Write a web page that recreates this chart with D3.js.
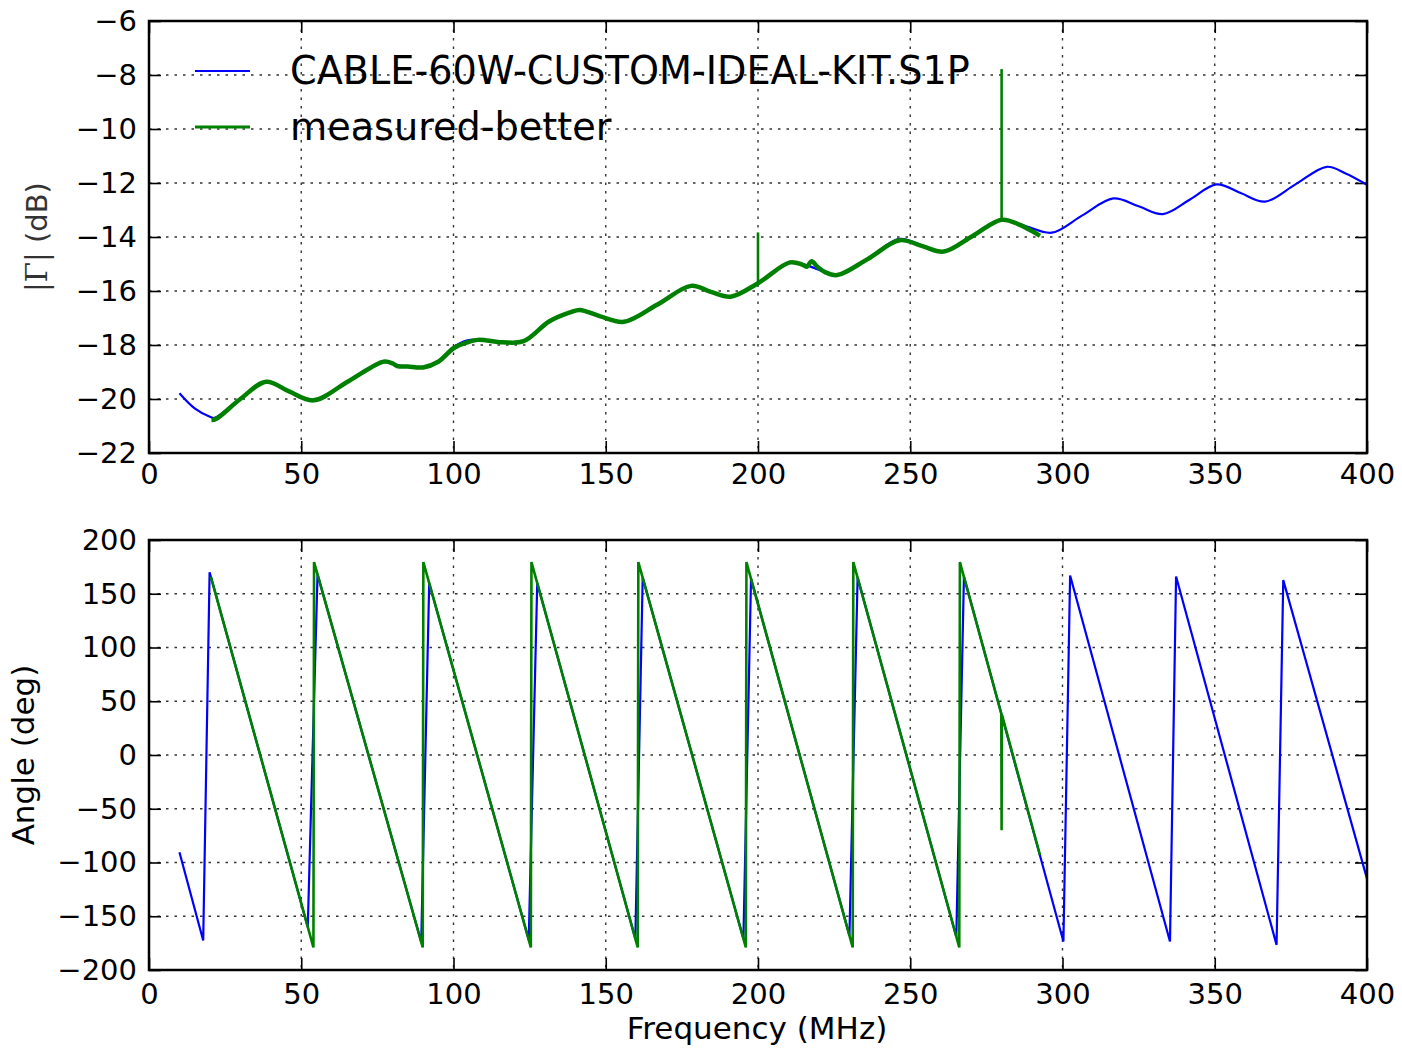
<!DOCTYPE html>
<html>
<head>
<meta charset="utf-8">
<script src="https://cdn.jsdelivr.net/npm/d3@7"></script>
<style>
  body { margin: 0; background: #fff; }
  svg { display: block; }
</style>
</head>
<body>
<svg id="chart" width="1402" height="1049"></svg>
<script>
// ---- Reflection coefficient data: ideal kit model vs. measured ----
const idealMagFreq = [10, 15, 20, 21.5, 30, 38.5, 46, 54, 65.5, 77, 83, 90, 95, 100, 104, 108, 116, 123,
  131.5, 138.5, 141, 148, 156, 167, 178, 184.5, 191, 200, 210.5, 216, 219, 226, 236, 246.5, 254, 261,
  270.5, 280, 288, 296.5, 306.5, 316.7, 325, 333, 342, 350.6, 358.5, 366.5, 376.5, 386.8, 393, 400];
const idealMagDb = [-19.79, -20.35, -20.66, -20.70, -20.0, -19.37, -19.72, -20.04, -19.33, -18.63, -18.78, -18.82, -18.6, -18.08, -17.84, -17.80, -17.89, -17.85,
  -17.1, -16.77, -16.71, -16.93, -17.14, -16.5, -15.81, -16.03, -16.21, -15.72, -14.95, -15.05, -15.17, -15.41, -14.8, -14.07, -14.32, -14.54,
  -13.95, -13.36, -13.6, -13.84, -13.2, -12.57, -12.86, -13.15, -12.6, -12.05, -12.37, -12.69, -12.05, -11.40, -11.65, -12.07];

const measMagFreq = [20.5, 22, 30, 38.5, 46, 54, 65.5, 77, 80, 81.5, 85, 90, 95, 100, 104, 108, 116, 123,
  131.5, 138.5, 141.5, 148, 156, 167, 178, 184.5, 191, 200, 210.5, 214.5, 216, 217.6, 219.5, 222, 226,
  236, 246.5, 254, 261, 270.5, 280, 286, 292.6];
const measMagDb = [-20.78, -20.74, -20.0, -19.36, -19.72, -20.05, -19.34, -18.62, -18.68, -18.78, -18.8, -18.83, -18.62, -18.12, -17.92, -17.81, -17.9, -17.86,
  -17.12, -16.78, -16.70, -16.93, -17.14, -16.5, -15.81, -16.03, -16.21, -15.71, -14.94, -15.02, -15.1, -14.9, -15.1, -15.3, -15.41,
  -14.82, -14.12, -14.34, -14.54, -13.96, -13.36, -13.55, -13.96];

// narrow spurs in the measured magnitude
const measSpikeFreq = [200, 280];
const measSpikeBaseDb = [-15.71, -13.36];
const measSpikePeakDb = [-13.83, -7.78];

// phase (deg), piecewise linear between samples
const idealPhaseFreq = [10, 17.8, 19.9, 52.14, 55.35, 89.4, 92.02, 124.71, 127.5, 159.72, 162.13, 195.21, 197.71,
  230.03, 232.71, 265.13, 267.63, 300.3, 302.5, 335.3, 337.3, 370.3, 372.5, 400];
const idealPhaseDeg = [-90.5, -172.5, 170, -160, 168, -174, 160, -172, 160, -171, 165, -171, 164,
  -168, 165, -169, 166, -173.5, 167, -173.5, 166, -176.6, 162.7, -115];

const measPhaseFreq = [20.3, 54.0, 54.2, 89.9, 90.1, 125.4, 125.6, 160.5, 160.7, 196.0, 196.2,
  231.1, 231.3, 266.1, 266.3, 279.9, 280.0, 280.1, 292.6];
const measPhaseDeg = [166, -179, 179.5, -179, 179.5, -179, 179.5, -179, 179.5, -179, 179.5,
  -179, 179.5, -179, 179.5, 38.5, -70, 37.5, -93];

// ticks
const freqTicks = [0, 50, 100, 150, 200, 250, 300, 350, 400];
const magTicks = [-22, -20, -18, -16, -14, -12, -10, -8, -6];
const phaseTicks = [-200, -150, -100, -50, 0, 50, 100, 150, 200];

const seriesNames = ["CABLE-60W-CUSTOM-IDEAL-KIT.S1P", "measured-better"];
const seriesColors = ["#0000ff", "#008000"];

// ---- layout ----
const svg = d3.select("#chart");
const FONT = "DejaVu Sans, sans-serif";
const left = 149, right = 1367;
const x = d3.scaleLinear().domain([0, 400]).range([left, right]);
const yMag = d3.scaleLinear().domain([-22, -6]).range([453, 21]);
const yPh = d3.scaleLinear().domain([-200, 200]).range([970, 540]);

const fmt = v => (v < 0 ? "\u2212" + Math.abs(v) : String(v));

function drawPanel(id, y, yTicks, labelPad) {
  const [bot, top] = y.range();
  const g = svg.append("g");

  svg.append("clipPath").attr("id", id)
    .append("rect").attr("x", left).attr("y", top)
    .attr("width", right - left).attr("height", bot - top);

  // dotted grid
  const grid = g.append("g").attr("stroke", "#000").attr("stroke-width", 1.4)
    .attr("stroke-dasharray", "2.5,6").attr("opacity", 0.8);
  grid.selectAll("line.v").data(freqTicks).join("line")
    .attr("x1", d => x(d)).attr("x2", d => x(d)).attr("y1", top).attr("y2", bot);
  grid.selectAll("line.h").data(yTicks).join("line")
    .attr("x1", left).attr("x2", right).attr("y1", d => y(d)).attr("y2", d => y(d));

  // inward ticks on all four sides
  const styleAxis = sel => {
    sel.select(".domain").remove();
    sel.selectAll(".tick line").attr("stroke", "#000").attr("stroke-width", 1.6);
    sel.selectAll(".tick text").attr("font-family", FONT).attr("font-size", 29).attr("fill", "#000");
  };
  g.append("g").attr("transform", `translate(0,${bot})`)
    .call(d3.axisBottom(x).tickValues(freqTicks).tickFormat(fmt).tickSizeInner(-12).tickSizeOuter(0).tickPadding(labelPad))
    .call(styleAxis);
  g.append("g").attr("transform", `translate(0,${top})`)
    .call(d3.axisTop(x).tickValues(freqTicks).tickFormat("").tickSizeInner(-12).tickSizeOuter(0))
    .call(styleAxis);
  g.append("g").attr("transform", `translate(${left},0)`)
    .call(d3.axisLeft(y).tickValues(yTicks).tickFormat(fmt).tickSizeInner(-12).tickSizeOuter(0).tickPadding(12))
    .call(styleAxis);
  g.append("g").attr("transform", `translate(${right},0)`)
    .call(d3.axisRight(y).tickValues(yTicks).tickFormat("").tickSizeInner(-12).tickSizeOuter(0))
    .call(styleAxis);

  const plot = svg.append("g").attr("clip-path", `url(#${id})`);

  // frame drawn last
  const frame = () => svg.append("rect").attr("x", left).attr("y", top)
    .attr("width", right - left).attr("height", bot - top)
    .attr("fill", "none").attr("stroke", "#000").attr("stroke-width", 2.5);
  return { plot, frame };
}

// ---- magnitude panel ----
const magPanel = drawPanel("clipMag", yMag, magTicks, 10);
const magLine = d3.line().x(d => x(d[0])).y(d => yMag(d[1])).curve(d3.curveCatmullRom.alpha(0.5));
magPanel.plot.append("path").datum(d3.zip(idealMagFreq, idealMagDb))
  .attr("d", magLine).attr("fill", "none").attr("stroke", seriesColors[0]).attr("stroke-width", 2.2);
magPanel.plot.append("path").datum(d3.zip(measMagFreq, measMagDb))
  .attr("d", magLine).attr("fill", "none").attr("stroke", seriesColors[1])
  .attr("stroke-width", 4.5).attr("stroke-linejoin", "round");
magPanel.plot.selectAll("line.spur").data(d3.zip(measSpikeFreq, measSpikeBaseDb, measSpikePeakDb)).join("line")
  .attr("x1", d => x(d[0])).attr("x2", d => x(d[0]))
  .attr("y1", d => yMag(d[1])).attr("y2", d => yMag(d[2]))
  .attr("stroke", seriesColors[1]).attr("stroke-width", 2.6);
magPanel.frame();

// legend (no frame)
const legendRows = [{ y: 71, text: seriesNames[0], color: seriesColors[0], w: 2.2 },
                    { y: 127, text: seriesNames[1], color: seriesColors[1], w: 3.2 }];
const lg = svg.append("g");
legendRows.forEach(r => {
  lg.append("line").attr("x1", 195).attr("x2", 250).attr("y1", r.y).attr("y2", r.y)
    .attr("stroke", r.color).attr("stroke-width", r.w);
  lg.append("text").attr("x", 290).attr("y", r.y + 13).attr("font-family", FONT)
    .attr("font-size", 38.2).attr("fill", "#000").text(r.text);
});

// y label with serif Gamma
const yl1 = svg.append("text").attr("transform", "translate(47,237) rotate(-90)")
  .attr("text-anchor", "middle").attr("font-family", FONT).attr("font-size", 29).attr("fill", "#333");
yl1.append("tspan").attr("font-family", "DejaVu Serif, serif").text("|\u0393|");
yl1.append("tspan").text(" (dB)");

// ---- phase panel ----
const phPanel = drawPanel("clipPh", yPh, phaseTicks, 13);
const phLine = d3.line().x(d => x(d[0])).y(d => yPh(d[1]));
phPanel.plot.append("path").datum(d3.zip(idealPhaseFreq, idealPhaseDeg))
  .attr("d", phLine).attr("fill", "none").attr("stroke", seriesColors[0]).attr("stroke-width", 2.2);
phPanel.plot.append("path").datum(d3.zip(measPhaseFreq, measPhaseDeg))
  .attr("d", phLine).attr("fill", "none").attr("stroke", seriesColors[1]).attr("stroke-width", 2.6);
phPanel.frame();

svg.append("text").attr("transform", "translate(34,755) rotate(-90)")
  .attr("text-anchor", "middle").attr("font-family", FONT).attr("font-size", 31).attr("fill", "#000")
  .text("Angle (deg)");

svg.append("text").attr("x", 757).attr("y", 1039).attr("text-anchor", "middle")
  .attr("font-family", FONT).attr("font-size", 31).attr("fill", "#000")
  .text("Frequency (MHz)");
</script>
</body>
</html>
